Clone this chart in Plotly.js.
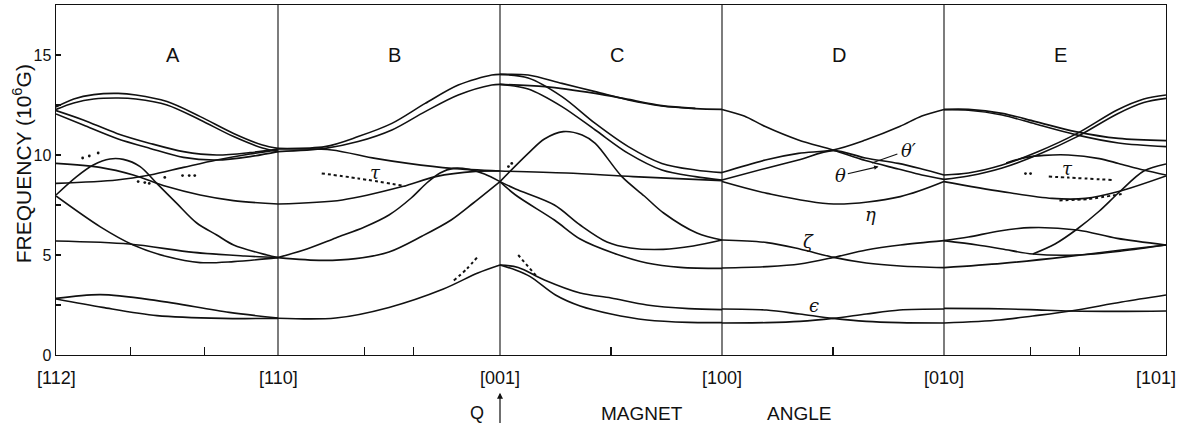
<!DOCTYPE html>
<html><head><meta charset="utf-8">
<script src="https://cdn.plot.ly/plotly-3.0.1.min.js"></script>
<style>html,body{margin:0;padding:0;background:#fff}#chart{width:1178px;height:427px}</style>
</head><body><div id="chart"></div>
<script>
// x = magnet angle in panel units (0=[112],1=[110],2=[001],3=[100],4=[010],5=[101]); y = frequency (10^6 G)
const directionLabels = ['[112]', '[110]', '[001]', '[100]', '[010]', '[101]'];
const directionPos = [0, 1, 2, 3, 4, 4.955];
const panelLetters = ['A', 'B', 'C', 'D', 'E'];
const minorTicks = [0.336, 0.667, 1.39, 1.61, 2.5, 3.5, 4.39, 4.61];

// Panel A
const A_top1 = [[0,12.4],[0.08,12.8],[0.17,13.02],[0.28,13.08],[0.36,13.0],[0.5,12.67],[0.65,11.92],[0.8,11.08],[0.93,10.5],[1,10.33]];
const A_top2 = [[0,12.28],[0.08,12.6],[0.17,12.8],[0.28,12.85],[0.36,12.8],[0.5,12.5],[0.65,11.75],[0.8,10.92],[0.93,10.35],[1,10.17]];
const A_mid1 = [[0,12.22],[0.123,11.75],[0.274,11.08],[0.424,10.58],[0.574,10.17],[0.724,10.0],[0.874,10.12],[1,10.3]];
const A_mid2 = [[0,12.05],[0.123,11.5],[0.274,10.83],[0.424,10.33],[0.574,9.88],[0.724,9.75],[0.874,9.92],[1,10.17]];
const A_rise = [[0,8.58],[0.274,8.75],[0.424,9.0],[0.574,9.38],[0.724,9.75],[0.874,10.05],[1,10.25]];
const A_desc = [[0,9.58],[0.198,9.38],[0.348,9.0],[0.499,8.42],[0.649,8.0],[0.799,7.72],[1,7.55]];
const A_peak = [[0,8.0],[0.093,8.92],[0.168,9.5],[0.243,9.8],[0.303,9.78],[0.379,9.42],[0.454,8.58],[0.544,7.58],[0.634,6.6],[0.724,6.0],[0.8,5.5],[0.95,5.0],[1,4.87]];
const A_steep = [[0,7.95],[0.198,6.42],[0.348,5.5],[0.499,4.92],[0.649,4.62],[0.8,4.67],[1,4.87]];
const A_zeta = [[0,5.7],[0.33,5.55],[0.62,5.13],[0.85,4.95],[1,4.87]];
const A_eps1 = [[0,2.83],[0.2,3.02],[0.455,2.72],[0.78,2.13],[1,1.85]];
const A_eps2 = [[0,2.8],[0.21,2.38],[0.455,1.97],[0.75,1.83],[1,1.83]];

// Panel B
const B_top1 = [[1,10.33],[1.212,10.42],[1.361,10.92],[1.513,11.58],[1.663,12.58],[1.812,13.5],[1.963,14.0],[2,14.03]];
const B_top2 = [[1,10.17],[1.212,10.33],[1.361,10.67],[1.513,11.25],[1.663,12.17],[1.812,13.0],[1.963,13.5],[2,13.53]];
const B_H = [[1,10.3],[1.1,10.3],[1.242,10.25],[1.438,9.83],[1.586,9.58],[1.783,9.33],[2,9.2]];
const B_low = [[1,7.55],[1.29,7.75],[1.56,8.42],[1.71,8.92],[1.89,9.18],[2,9.2]];
const B_peak = [[1,4.87],[1.13,5.3],[1.26,5.85],[1.39,6.4],[1.5,7.0],[1.6,7.85],[1.67,8.6],[1.73,9.1],[1.79,9.33],[1.86,9.28],[1.93,9.05],[2,8.67]];
const B_zeta = [[1,4.87],[1.2,4.73],[1.35,4.82],[1.5,5.15],[1.65,5.95],[1.78,6.75],[1.88,7.6],[2,8.67]];
const B_eps = [[1,1.84],[1.26,1.85],[1.5,2.38],[1.745,3.3],[1.9,4.1],[2,4.5]];

// Panel C
const C_top1 = [[2,14.03],[2.127,14.0],[2.279,13.58],[2.429,13.17],[2.578,12.75],[2.729,12.45],[2.88,12.32],[3,12.28]];
const C_top2 = [[2,13.53],[2.204,13.42],[2.429,13.08],[2.578,12.78],[2.729,12.47],[2.88,12.33]];
const C_d1 = [[2,14.03],[2.127,13.85],[2.279,12.92],[2.429,11.58],[2.578,10.42],[2.729,9.58],[2.88,9.25],[3,9.12]];
const C_d2 = [[2,13.53],[2.127,13.3],[2.279,12.42],[2.429,11.25],[2.578,10.08],[2.729,9.25],[2.88,8.92],[3,8.75]];
const C_H = [[2,9.2],[2.3,9.1],[2.6,8.92],[3,8.72]];
const C_hump = [[2,8.67],[2.127,10.08],[2.2,10.8],[2.285,11.17],[2.37,11.0],[2.429,10.58],[2.549,8.92],[2.65,7.95],[2.737,7.1],[2.887,6.1],[3,5.75]];
const C_zeta1 = [[2,8.67],[2.07,8.3],[2.245,7.5],[2.361,6.5],[2.482,5.65],[2.587,5.35],[2.735,5.28],[2.87,5.45],[3,5.75]];
const C_zeta2 = [[2,8.67],[2.07,8.0],[2.245,6.75],[2.361,5.8],[2.51,5.1],[2.662,4.6],[2.812,4.38],[3,4.33]];
const C_eps1 = [[2,4.5],[2.082,4.38],[2.2,3.75],[2.361,3.1],[2.5,2.85],[2.662,2.5],[2.85,2.32],[3,2.27]];
const C_eps2 = [[2,4.5],[2.07,4.25],[2.136,3.92],[2.25,3.0],[2.361,2.45],[2.5,2.05],[2.662,1.75],[2.85,1.63],[3,1.62]];

// Panel D
const D_top1 = [[3,12.28],[3.1,11.95],[3.195,11.42],[3.344,10.75],[3.5,10.25],[3.646,9.72],[3.794,9.3],[3.9,9.0],[4,8.78]];
const D_top2 = [[3,9.12],[3.195,9.75],[3.344,10.08],[3.5,10.25],[3.646,10.75],[3.8,11.42],[3.9,11.95],[4,12.28]];
const D_theta = [[3,8.75],[3.195,9.33],[3.344,9.75],[3.5,10.22],[3.646,9.85],[3.794,9.58],[3.9,9.3],[4,9.0]];
const D_eta = [[3,8.67],[3.203,8.08],[3.503,7.55],[3.803,7.92],[4,8.67]];
const D_zeta1 = [[3,5.75],[3.203,5.62],[3.35,5.3],[3.503,4.88],[3.65,4.6],[3.803,4.45],[4,4.37]];
const D_zeta2 = [[3,4.35],[3.203,4.42],[3.35,4.55],[3.503,4.88],[3.65,5.25],[3.803,5.5],[4,5.72]];
const D_eps1 = [[3,2.3],[3.2,2.25],[3.35,2.05],[3.5,1.83],[3.65,1.68],[3.8,1.62],[4,1.6]];
const D_eps2 = [[3,1.6],[3.2,1.62],[3.35,1.68],[3.5,1.83],[3.65,2.05],[3.8,2.25],[4,2.3]];

// Panel E
const E_top1 = [[4,12.28],[4.11,12.28],[4.262,12.08],[4.412,11.67],[4.592,11.17],[4.786,10.83],[5,10.72]];
const E_top2 = [[4,12.26],[4.11,12.24],[4.262,12.0],[4.412,11.55],[4.592,11.02],[4.786,10.6],[5,10.42]];
const E_rise1 = [[4,9.0],[4.11,9.1],[4.262,9.5],[4.42,10.15],[4.6,11.08],[4.78,12.25],[4.9,12.8],[5,13.0]];
const E_rise2 = [[4,8.78],[4.11,8.95],[4.262,9.35],[4.42,10.0],[4.6,10.92],[4.78,12.05],[4.9,12.62],[5,12.83]];
const E_hump = [[4.28,9.6],[4.37,9.88],[4.45,9.98],[4.56,10.0],[4.7,9.82],[4.786,9.58],[4.9,9.25],[5,9.0]];
const E_eta = [[4,8.67],[4.262,8.17],[4.487,7.83],[4.637,7.83],[4.786,8.17],[5,8.95]];
const E_steep = [[4.4,5.05],[4.5,5.55],[4.6,6.3],[4.7,7.2],[4.79,8.15],[4.9,9.2],[5,9.55]];
const E_zetaUp = [[4,5.72],[4.11,5.9],[4.25,6.2],[4.389,6.37],[4.6,6.25],[4.78,5.83],[5,5.5]];
const E_zetaMid = [[4,5.72],[4.15,5.5],[4.262,5.3],[4.4,5.05],[4.6,5.0],[4.8,5.2],[5,5.5]];
const E_zetaLow = [[4,4.37],[4.262,4.58],[4.555,4.92],[4.8,5.25],[5,5.5]];
const E_eps1 = [[4,2.33],[4.2,2.32],[4.389,2.27],[4.57,2.2],[4.8,2.18],[5,2.2]];
const E_eps2 = [[4,1.6],[4.25,1.75],[4.4,1.95],[4.57,2.2],[4.8,2.65],[5,3.0]];

// Experimental points off the curves
const tauB_dots = [[1.197,9.08],[1.361,8.83],[1.573,8.45]];
const tauE_dots = [[4.472,8.92],[4.561,8.87],[4.758,8.75]];
const epsB_dots = [[1.792,3.72],[1.85,4.3],[1.904,4.97]];
const epsC_dots = [[2.082,5.0],[2.162,3.97]];
const etaE_dots = [[4.52,7.73],[4.65,7.8],[4.8,8.05]];
const scatter_dots = [[0.12,9.85],[0.15,9.95],[0.19,10.1],[0.37,8.67],[0.40,8.62],[0.42,8.58],[0.49,8.88],[0.57,8.97],[0.6,8.97],[0.625,8.97],[2.038,9.42],[2.053,9.58],[4.367,9.07],[4.39,9.07]];

// Curve labels: [text, x, y]
const greekLabels = [['τ',1.438,9.15],['η',3.668,7.05],['ζ',3.39,5.7],['ϵ',3.413,2.5],['τ',4.555,9.35],['θ′',3.84,10.25]];
// leader line from the θ′ label to its curve: [x0, y0, x1, y1]
const thetaPrimeLeader = [3.79, 10.05, 3.675, 9.6];

const curves = [A_top1,A_top2,A_mid1,A_mid2,A_rise,A_desc,A_peak,A_steep,A_zeta,A_eps1,A_eps2,
  B_top1,B_top2,B_H,B_low,B_peak,B_zeta,B_eps,
  C_top1,C_top2,C_d1,C_d2,C_H,C_hump,C_zeta1,C_zeta2,C_eps1,C_eps2,
  D_top1,D_top2,D_theta,D_eta,D_zeta1,D_zeta2,D_eps1,D_eps2,
  E_top1,E_top2,E_rise1,E_rise2,E_hump,E_eta,E_steep,E_zetaUp,E_zetaMid,E_zetaLow,E_eps1,E_eps2];
const dottedLines = [tauB_dots, tauE_dots, epsB_dots, epsC_dots, etaE_dots];

const INK = '#111111';
const traces = [];
curves.forEach(c => traces.push({
  x: c.map(p => p[0]), y: c.map(p => p[1]), mode: 'lines', hoverinfo: 'skip',
  line: {shape: 'spline', smoothing: 0.9, color: INK, width: 1.6}
}));
dottedLines.forEach(c => traces.push({
  x: c.map(p => p[0]), y: c.map(p => p[1]), mode: 'lines', hoverinfo: 'skip',
  line: {shape: 'spline', smoothing: 0.8, color: INK, width: 2, dash: 'dot'}
}));
traces.push({
  x: scatter_dots.map(p => p[0]), y: scatter_dots.map(p => p[1]), mode: 'markers', hoverinfo: 'skip',
  marker: {size: 2.8, color: INK}
});

const FONT = 'Liberation Sans, Arial, sans-serif';
const GREEK = {family: 'DejaVu Serif, serif', size: 18, color: INK, style: 'italic'};
const annotations = [];
directionLabels.forEach((t, i) => annotations.push({
  text: t, x: directionPos[i], xref: 'x', y: -0.066, yref: 'paper',
  showarrow: false, xanchor: 'center', yanchor: 'middle', font: {family: FONT, size: 18, color: INK}
}));
panelLetters.forEach((t, i) => annotations.push({
  text: t, x: i + 0.525, xref: 'x', y: 15.0, yref: 'y',
  showarrow: false, xanchor: 'center', yanchor: 'middle', font: {family: FONT, size: 20, color: INK}
}));
greekLabels.forEach(g => annotations.push({
  text: g[0], x: g[1], y: g[2], xref: 'x', yref: 'y', showarrow: false, font: GREEK
}));
// theta with arrow
annotations.push({text: 'θ', x: 3.705, y: 9.42, ax: 3.535, ay: 8.98, axref: 'x', ayref: 'y', xref: 'x', yref: 'y',
  showarrow: true, arrowhead: 2, arrowsize: 0.8, arrowwidth: 1.1, arrowcolor: INK, font: GREEK});
// y axis title
annotations.push({text: 'FREQUENCY (10<sup>6</sup>G)', x: -0.0306, xref: 'paper', y: 0.545, yref: 'paper',
  textangle: -90, showarrow: false, xanchor: 'center', yanchor: 'middle', font: {family: FONT, size: 21, color: INK}});
// bottom title
annotations.push({text: 'Q', x: 1.897, xref: 'x', y: -0.166, yref: 'paper', showarrow: false,
  xanchor: 'center', yanchor: 'middle', font: {family: FONT, size: 18, color: INK}});
annotations.push({text: ' ', x: 2, xref: 'x', y: -0.108, yref: 'paper', ax: 0, ay: 36,
  showarrow: true, arrowhead: 2, arrowsize: 1, arrowwidth: 1.2, arrowcolor: INK, font: {size: 4}});
annotations.push({text: 'MAGNET', x: 2.641, xref: 'x', y: -0.166, yref: 'paper', showarrow: false,
  xanchor: 'center', yanchor: 'middle', font: {family: FONT, size: 19, color: INK}});
annotations.push({text: 'ANGLE', x: 3.348, xref: 'x', y: -0.166, yref: 'paper', showarrow: false,
  xanchor: 'center', yanchor: 'middle', font: {family: FONT, size: 19, color: INK}});

const shapes = [1, 2, 3, 4].map(v => ({type: 'line', x0: v, x1: v, y0: 0, y1: 1, xref: 'x', yref: 'paper',
  line: {color: INK, width: 1.1}}));
shapes.push({type: 'line', xref: 'x', yref: 'y', x0: thetaPrimeLeader[0], y0: thetaPrimeLeader[1],
  x1: thetaPrimeLeader[2], y1: thetaPrimeLeader[3], line: {color: INK, width: 1.1}});

const layout = {
  width: 1178, height: 427,
  margin: {l: 56, r: 12, t: 5, b: 72},
  paper_bgcolor: '#fff', plot_bgcolor: '#fff',
  showlegend: false, hovermode: false,
  xaxis: {range: [0, 5], showgrid: false, zeroline: false, showline: true, linecolor: INK, linewidth: 1.4, mirror: true,
    tickvals: minorTicks, ticks: 'inside', ticklen: 8, tickcolor: INK, tickwidth: 1.1, showticklabels: false},
  yaxis: {range: [0, 17.5], showgrid: false, zeroline: false, showline: true, linecolor: INK, linewidth: 1.4, mirror: true,
    tickvals: [0, 5, 10, 15], ticktext: ['0', '5', '10', '15'],
    ticks: 'inside', ticklen: 5, tickcolor: INK, tickwidth: 1.1,
    minor: {tickvals: [2.5, 7.5, 12.5], ticks: 'inside', ticklen: 5, tickcolor: INK, tickwidth: 1.1},
    tickfont: {family: FONT, size: 16, color: INK}},
  annotations: annotations,
  shapes: shapes
};
Plotly.newPlot('chart', traces, layout, {staticPlot: true, displayModeBar: false});
</script>
</body></html>
